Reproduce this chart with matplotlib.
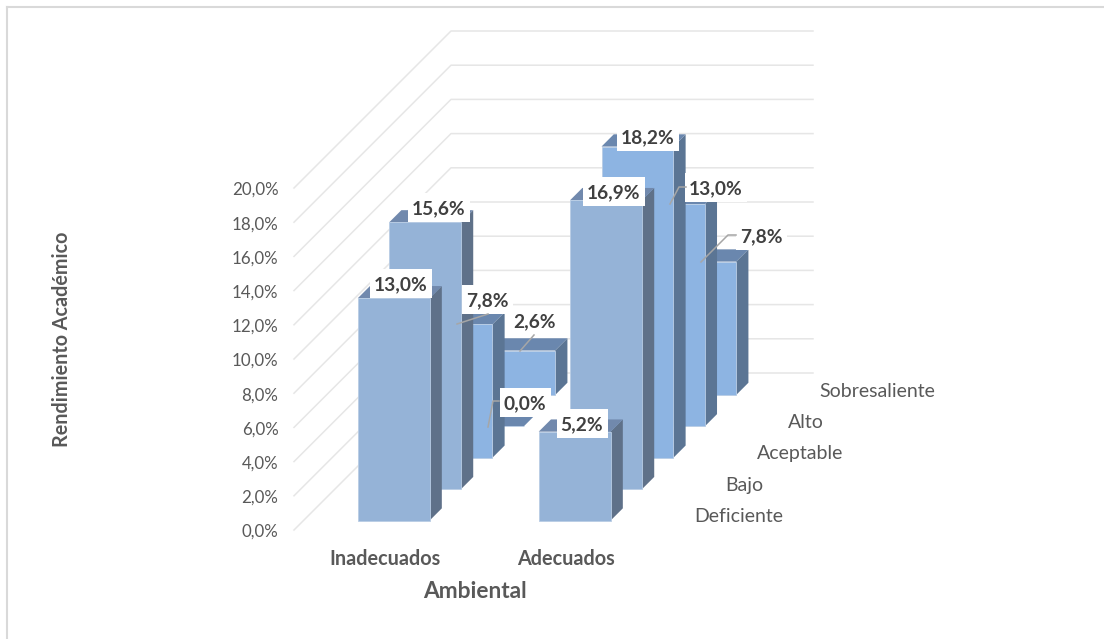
import matplotlib
matplotlib.use('Agg')
import matplotlib.pyplot as plt
from matplotlib.patches import Polygon, Rectangle

plt.rcParams['font.family'] = ['Lato', 'DejaVu Sans']

# datos del grafico
categorias = ['Inadecuados', 'Adecuados']
niveles = ['Deficiente', 'Bajo', 'Aceptable', 'Alto', 'Sobresaliente']
inadecuados = [13.0, 15.6, 7.8, 0.0, 2.6]
adecuados = [5.2, 16.9, 18.2, 13.0, 7.8]
ticks = [0, 2, 4, 6, 8, 10, 12, 14, 16, 18, 20]

# escala oblicua en pixeles
X0, Y0 = 294, 530
ANCHO_CAT = 181
PASO_X, PASO_Y = 31.4, 31.4
PX_POR_PCT = 17.1
HUECO, ANCHO_BARRA = 0.30, 0.397
INI_PROF, FONDO_BARRA = 0.30, 0.39


def proy(cat, prof, val):
    return (X0 + cat * ANCHO_CAT + prof * PASO_X,
            Y0 - prof * PASO_Y - val * PX_POR_PCT)


fig = plt.figure(figsize=(11.04, 6.39), dpi=100)
ax = fig.add_axes([0, 0, 1, 1])
ax.set_xlim(0, 1104)
ax.set_ylim(639, 0)
ax.axis('off')

# marco del grafico
ax.plot([6.5, 6.5], [638, 6.5], color='#D9D9D9', lw=1.5)
ax.plot([6.5, 1104], [6.5, 6.5], color='#D9D9D9', lw=1.5)

# rejilla: pared lateral y pared del fondo
prof_total = len(niveles)
for t in ticks:
    a = proy(0, 0, t)
    b = proy(0, prof_total, t)
    c = proy(2, prof_total, t)
    ax.plot([a[0], b[0], c[0]], [a[1], b[1], c[1]], color='#E6E6E6', lw=1.1, zorder=1)
    ax.text(a[0] - 15.5, a[1] + 2, f'{t:.1f}%'.replace('.', ','), ha='right', va='center',
            fontsize=12.2, color='#595959')


def barra(cat, fila, val, zorder):
    if fila < 2:
        frente, arriba, lado = '#95B3D7', '#7189AD', '#5F7189'
    else:
        frente, arriba, lado = '#8DB4E2', '#6A87AE', '#5B7594'
    c1 = cat + HUECO
    c2 = c1 + ANCHO_BARRA
    p1 = fila + INI_PROF
    p2 = p1 + FONDO_BARRA
    cara = [proy(c1, p1, 0), proy(c2, p1, 0), proy(c2, p1, val), proy(c1, p1, val)]
    tapa = [proy(c1, p1, val), proy(c2, p1, val), proy(c2, p2, val), proy(c1, p2, val)]
    costado = [proy(c2, p1, 0), proy(c2, p2, 0), proy(c2, p2, val), proy(c2, p1, val)]
    ax.add_patch(Polygon(costado, fc=lado, ec='none', zorder=zorder))
    ax.add_patch(Polygon(tapa, fc=arriba, ec='none', zorder=zorder))
    ax.add_patch(Polygon(cara, fc=frente, ec='#B9CDE5', lw=0.6, zorder=zorder))


# de atras hacia adelante
for fila in range(len(niveles) - 1, -1, -1):
    orden = 10 + (len(niveles) - fila)
    barra(0, fila, inadecuados[fila], orden)
    barra(1, fila, adecuados[fila], orden)

# lineas guia de las etiquetas
guias = [
    [(457, 324), (488, 314)],
    [(520, 351), (534, 335)],
    [(488, 427), (493, 401), (499, 401)],
    [(670, 204), (679, 187), (686, 187)],
    [(701, 262), (728, 235), (736, 235)],
]
for g in guias:
    ax.plot([p[0] for p in g], [p[1] for p in g], color='#A6A6A6', lw=1.1, zorder=22)

# etiquetas de valor, con su caja blanca
pos_inad = [(401, 284), (439, 208), (487, 300), (525, 403), (535, 321)]
pos_adec = [(582, 424), (614, 192), (648, 137), (716, 188), (761, 236)]
for valores, posiciones in ((inadecuados, pos_inad), (adecuados, pos_adec)):
    for v, (x, y) in zip(valores, posiciones):
        txt = f'{v:.1f}%'.replace('.', ',')
        ancho = 62 if len(txt) > 4 else 51
        ax.add_patch(Rectangle((x - ancho / 2, y - 15), ancho, 29, fc='white', ec='none', zorder=20))
        ax.text(x, y + 1, txt, ha='center', va='center', fontsize=13.8, fontweight='bold',
                color='#404040', zorder=23)

# nombres de los niveles de profundidad
for i, n in enumerate(niveles):
    x, y = proy(2, i + 0.5, 0)
    ax.text(x + 22.5, y + 2.5, n, ha='left', va='center', fontsize=14, color='#595959')

# categorias y titulos
for i, c in enumerate(categorias):
    ax.text(proy(i, 0, 0)[0] + 91, 559, c, ha='center', va='center', fontsize=14.3,
            fontweight='bold', color='#595959')
ax.text(475, 591.5, 'Ambiental', ha='center', va='center', fontsize=16.4, fontweight='bold',
        color='#595959')
ax.text(61.5, 339, 'Rendimiento Académico', rotation=90, ha='center', va='center', fontsize=14.2,
        fontweight='bold', color='#595959')

fig.savefig('out.png', dpi=100)
